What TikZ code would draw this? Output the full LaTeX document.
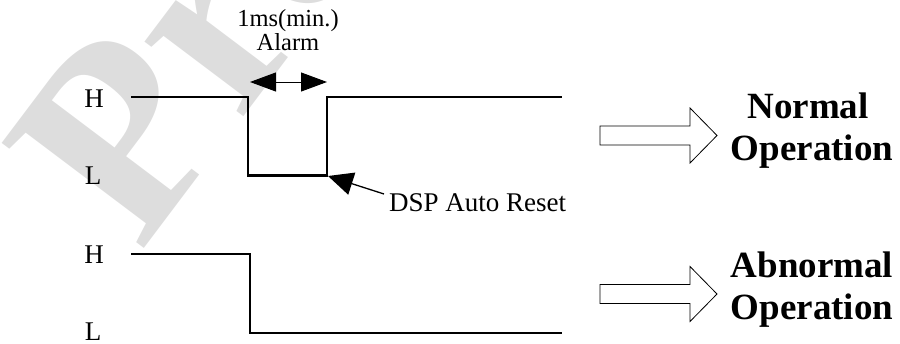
\documentclass[tikz,border=0pt]{standalone}
\usepackage{fontspec}
\setmainfont{Liberation Serif}
\usetikzlibrary{arrows.meta}
\definecolor{wmgray}{RGB}{221,221,221}
\tikzset{
  sig/.style={line width=2.6pt, line join=miter},
  lvl/.style={font=\fontsize{27}{27}\selectfont, anchor=base, inner sep=0},
  note/.style={font=\fontsize{24.5}{24.5}\selectfont, anchor=base, inner sep=0},
  result/.style={font=\fontsize{37}{37}\selectfont\bfseries, anchor=base, inner sep=0},
  hollow/.style={draw, line width=0.8pt, fill=white},
}
% hollow block arrow, centred on the given y
\newcommand{\hollowarrow}[1]{%
  \draw [hollow] (600,#1-9.5) -- (690,#1-9.5) -- (690,#1-27.5) -- (717,#1)
     -- (690,#1+27.5) -- (690,#1+9.5) -- (600,#1+9.5) -- cycle;}

\begin{document}
\begin{tikzpicture}[x=1pt,y=-1pt]
  \useasboundingbox (0,0) rectangle (900,343);
  \clip (0,0) rectangle (900,343);

  %% watermark
  \node [rotate=53, anchor=base west, inner sep=0, text=wmgray,
         font=\fontsize{270}{270}\selectfont\bfseries] (wm) at (140,254) {Preliminary};

  %% normal case: alarm pulse, then auto reset
  \draw [sig] (131,97) -- (248,97) -- (248,175.5) -- (327,175.5) -- (327,97) -- (562,97);
  \node [lvl] (h1) at (94,107) {H};
  \node [lvl] (l1) at (93,184) {L};

  \node [note] (width) at (288,26) {1ms(min.)};
  \node [note] (alarm) at (288,50) {Alarm};
  \coordinate (fall) at (250,82);
  \coordinate (rise) at (327,82);
  \draw [line width=1pt, {Triangle[length=26pt,width=19pt]}-{Triangle[length=26pt,width=19pt]}] (fall) -- (rise);

  \node [note, font=\fontsize{27}{27}\selectfont, anchor=base west] (dsp) at (389,211) {DSP Auto Reset};
  \coordinate (reset) at (328,176);
  \coordinate (resettail) at (384,194);
  \draw [line width=1.3pt, -{Triangle[length=25pt,width=23pt]}] (resettail) -- (reset);

  \hollowarrow{135.5}
  \node [result] (normal) at (808,118) {Normal};
  \node [result] (normalop) at (812,160) {Operation};

  %% abnormal case: stays low
  \draw [sig] (131,254) -- (250,254) -- (250,333) -- (562,333);
  \node [lvl] (h2) at (94,263) {H};
  \node [lvl] (l2) at (93,340) {L};

  \hollowarrow{294}
  \node [result] (abnormal) at (812,277) {Abnormal};
  \node [result] (abnormalop) at (812,319) {Operation};
\end{tikzpicture}
\end{document}
